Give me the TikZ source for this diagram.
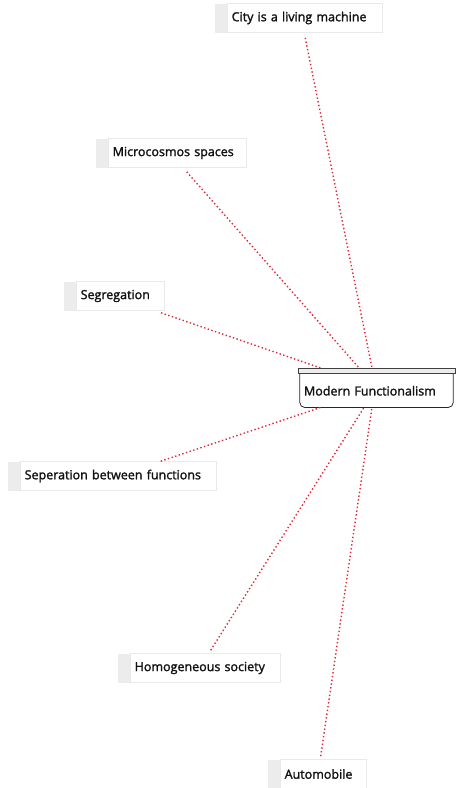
\documentclass[tikz,border=0pt]{standalone}
\usepackage{fontspec}
\setmainfont{Open Sans}
\newfontfamily\labelfont[FakeBold=1.6]{Open Sans}
\usepackage{tikz}
\usetikzlibrary{positioning,calc}
\definecolor{ink}{HTML}{111111}
\definecolor{link}{HTML}{E0283A}
\definecolor{tab}{HTML}{ECECEC}
\definecolor{edge}{HTML}{E9E9E9}

\tikzset{
  tabbar/.style={rectangle, fill=tab, draw=none, anchor=west,
    minimum width=12pt, minimum height=29pt, inner sep=0pt},
  leaf/.style={rectangle, fill=white, draw=edge, line width=0.6pt, anchor=west,
    minimum height=29pt, inner xsep=5pt, inner ysep=0pt, align=left,
    font=\labelfont\fontsize{12.5}{14}\selectfont, text=ink},
  tie/.style={link, line width=1.4pt, dash pattern=on 1.4pt off 2.4pt},
}

\begin{document}
\begin{tikzpicture}[x=1pt, y=-1pt]
  \useasboundingbox (0,0) rectangle (456,788);
  \foreach \nm/\bx/\cy/\w/\txt in {city/215/18/155/City is a living machine,
      micro/96/153/138/Microcosmos spaces,
      seg/64/296/88/Segregation,
      sep/8/476/196/Seperation between functions,
      homog/118/668/150/Homogeneous society,
      auto/268/774/86/Automobile}{
    \pgfmathsetmacro{\tw}{\w-8}
    \node[tabbar] (\nm-bar) at (\bx,\cy) {};
    \node[leaf, minimum width=\w pt, inner xsep=4pt, text width=\tw pt] (\nm) at (\nm-bar.east) {\txt};
  }

  % central concept
  \node[rectangle, fill=tab, draw=black!75, line width=0.7pt, minimum width=157pt,
        minimum height=5.5pt, inner sep=0pt] (mf-bar) at (376.5,371) {};
  \node[rectangle, minimum width=153pt, minimum height=33pt, inner xsep=4pt,
        text width=145pt, align=left, anchor=north,
        font=\labelfont\fontsize{12.5}{14}\selectfont, text=ink] (mf) at (mf-bar.south) {Modern Functionalism};
  \draw[black!85, line width=0.8pt, rounded corners=5pt]
    (mf.north west) -- (mf.south west) -- (mf.south east) -- (mf.north east);

  \draw[tie] ([yshift=-5pt]city.south) -- ([xshift=-4.5pt]mf-bar.north);
  \draw[tie] ([shift={(9pt,-4pt)}]micro.south) -- ([xshift=-17.5pt]mf-bar.north);
  \draw[tie] ([shift={(-4pt,-2pt)}]seg.south east) -- ([xshift=-56pt]mf-bar.north);
  \draw[tie] ([xshift=42pt]sep.north) -- ([xshift=-56pt]mf.south);
  \draw[tie] ([shift={(5pt,3pt)}]homog.north) -- ([xshift=-12.5pt]mf.south);
  \draw[tie] ([shift={(-3pt,3pt)}]auto.north) -- ([xshift=-4.5pt]mf.south);
\end{tikzpicture}
\end{document}
